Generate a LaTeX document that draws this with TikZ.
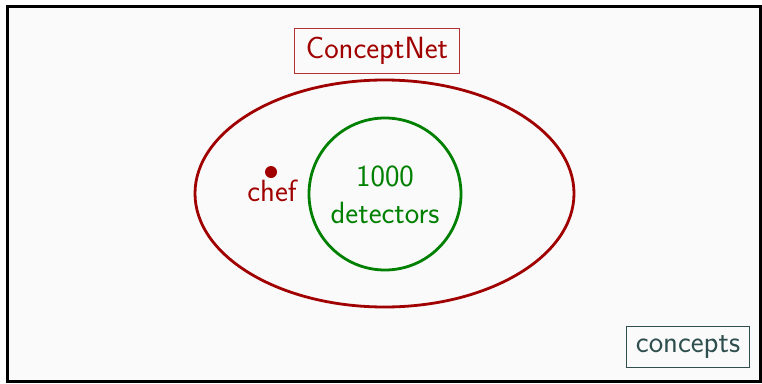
\documentclass[tikz,border=0pt]{standalone}
\usepackage{fontspec}
\usetikzlibrary{shapes.geometric}
\definecolor{cnred}{HTML}{A00000}
\definecolor{detgreen}{HTML}{008000}
\definecolor{slate}{HTML}{2F4F4F}
\definecolor{bg}{HTML}{FAFAFA}
\tikzset{
  lbl/.style={font=\sffamily\fontsize{30.7}{37}\selectfont, inner sep=0pt},
  boxed/.style={lbl, draw, line width=1.2pt, inner xsep=11pt, inner ysep=9pt},
  setring/.style={draw, line width=2.8pt, inner sep=0pt},
}
\begin{document}
\begin{tikzpicture}[x=1pt,y=-1pt]
\useasboundingbox (0,0) rectangle (762,383);
\fill[white] (0,0) rectangle (762,383);
\draw[line width=2.6pt, fill=bg] (7.5,6.5) rectangle (760.5,381.5);
\node[setring, cnred, ellipse, minimum width=379pt, minimum height=227pt] (cn) at (384.5,193.5) {};
\node[setring, detgreen, circle, minimum size=152pt] (det) at (385,194) {};
\node[lbl, detgreen, align=center] (dettext) at (385,195) {1000\\detectors};
\fill[cnred] (271,172) circle (6pt) coordinate (dot);
\node[lbl, cnred] (chef) at (272,191) {chef};
\node[boxed, cnred, draw=cnred!80] (cnlabel) at (377,51) {ConceptNet};
\node[boxed, slate, inner xsep=9.5pt] (concepts) at (688,347) {concepts};
\end{tikzpicture}
\end{document}
